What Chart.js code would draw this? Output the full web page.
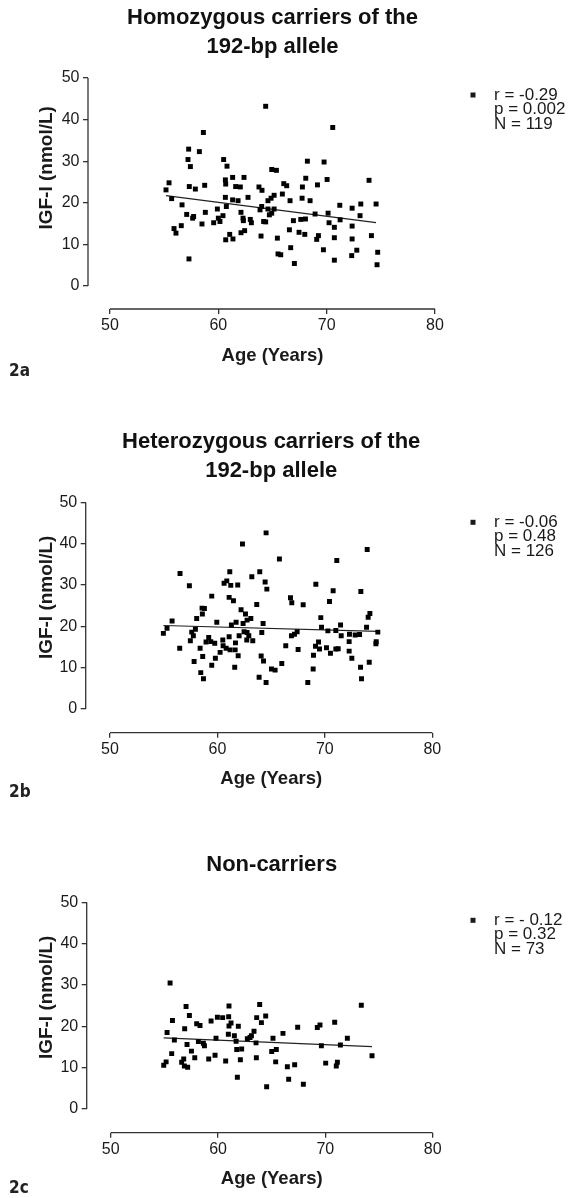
<!DOCTYPE html>
<html>
<head>
<meta charset="utf-8">
<title>IGF-I by age</title>
<script src="https://cdn.jsdelivr.net/npm/chart.js@4.4.1/dist/chart.umd.min.js"></script>
<style>
  html, body { margin: 0; padding: 0; background: #fff; }
  #page { position: relative; width: 576px; height: 1198px; overflow: hidden; }
  .panel { position: absolute; left: 0; width: 576px; }
  .fig-tag {
    position: absolute; left: 9px;
    font: bold 17px "Liberation Sans Narrow", "DejaVu Sans Condensed", sans-serif;
    color: #222;
  }
</style>
</head>
<body>
<div id="page">
  <div class="panel" style="top:0;height:400px"><canvas id="chartA" width="576" height="400"></canvas></div>
  <div class="panel" style="top:400px;height:400px"><canvas id="chartB" width="576" height="400"></canvas></div>
  <div class="panel" style="top:800px;height:398px"><canvas id="chartC" width="576" height="398"></canvas></div>
  <div class="fig-tag" style="top:360px">2a</div>
  <div class="fig-tag" style="top:781px">2b</div>
  <div class="fig-tag" style="top:1177px">2c</div>
</div>

<script>
// axis ticks
const xTicks = [50, 60, 70, 80];
const yTicks = [0, 10, 20, 30, 40, 50];

// 2a - homozygous carriers
const homoAge = [55.17, 55.45, 55.69, 55.91, 56.09, 56.58, 56.65, 57.08, 57.26, 57.2, 57.42, 57.32, 57.29, 57.63, 57.72,
  57.88, 58.25, 58.49, 58.62, 58.74, 58.8, 59.57, 59.91, 60.0, 60.15, 60.43, 60.49, 60.65, 60.68, 60.8,
  60.65, 60.74, 60.68, 61.05, 61.35, 61.32, 61.32, 61.6, 61.82, 62.03, 62.09, 62.09, 62.28, 62.31, 62.37,
  62.43, 62.74, 62.95, 63.05, 63.75, 64.03, 63.85, 63.94, 64.0, 64.18, 64.37, 64.37, 64.58, 64.58, 64.71,
  70.56, 64.93, 65.36, 68.22, 69.76, 68.07, 70.04, 73.91, 66.04, 66.31, 67.76, 69.15, 64.87, 65.15, 65.91,
  66.62, 67.73, 68.47, 65.15, 64.93, 71.21, 72.35, 73.15, 74.56, 68.93, 70.13, 73.08, 66.93, 67.61, 68.04,
  70.22, 70.71, 71.24, 72.35, 66.56, 67.45, 67.98, 69.24, 69.08, 70.71, 72.35, 74.13, 65.45, 66.68, 69.7,
  72.78, 65.51, 65.76, 72.31, 74.71, 67.02, 70.71, 74.65];
const homoIgf = [23.1, 24.8, 21.0, 13.8, 12.7, 14.5, 19.5, 17.2, 32.9, 30.4, 28.7, 23.9, 6.5, 16.3, 16.7,
  23.3, 32.3, 14.9, 36.9, 24.2, 17.7, 15.2, 18.5, 16.3, 15.5, 16.9, 30.4, 25.5, 24.5, 28.8,
  21.3, 19.1, 11.1, 12.4, 11.3, 26.1, 20.7, 23.9, 20.5, 23.8, 17.7, 12.8, 16.3, 15.7, 26.1,
  13.3, 21.3, 16.0, 15.2, 23.8, 23.0, 18.3, 12.0, 19.1, 15.5, 43.2, 15.4, 20.5, 18.5, 17.1,
  38.1, 28.0, 27.8, 30.0, 29.8, 25.9, 25.6, 25.4, 24.6, 24.1, 23.8, 24.3, 21.1, 21.8, 22.1,
  20.5, 21.1, 20.5, 18.5, 17.5, 19.4, 18.7, 19.7, 19.7, 17.3, 17.5, 16.9, 15.7, 16.0, 16.1,
  15.2, 14.1, 15.9, 14.4, 13.5, 12.9, 12.4, 12.1, 11.2, 11.6, 11.3, 12.1, 11.5, 9.2, 8.7,
  8.6, 7.7, 7.5, 7.3, 8.1, 5.4, 6.2, 5.1];
const homoFitAge = [55.17, 74.56];
const homoFitIgf = [21.7, 15.25];
const homoStats = ['r = -0.29', 'p = 0.002', 'N = 119'];

// 2b - heterozygous carriers
const heteroAge = [54.97, 55.31, 55.78, 56.52, 56.49, 57.39, 57.61, 57.95, 57.48, 57.76, 57.83, 58.07, 58.39, 58.45, 58.63,
  58.7, 58.57, 58.79, 58.6, 59.47, 58.94, 59.19, 59.38, 59.75, 59.47, 59.94, 59.81, 60.25, 60.5, 60.53,
  60.62, 60.87, 61.15, 61.24, 61.09, 61.09, 61.49, 61.3, 60.81, 61.18, 61.65, 61.61, 61.68, 61.74, 61.89,
  61.93, 62.02, 62.2, 62.33, 62.39, 62.48, 62.61, 62.76, 62.76, 62.92, 62.73, 63.11, 63.2, 63.29, 63.66,
  63.88, 63.94, 64.07, 64.13, 64.25, 64.29, 64.44, 64.53, 64.53, 64.6,
  65.77, 71.11, 73.94, 69.16, 73.35, 70.77, 66.8, 66.92, 67.98, 70.43, 69.62, 74.19, 74.03, 69.69, 70.28,
  71.02, 71.46, 73.88, 74.93, 67.42, 67.17, 66.89, 71.52, 72.29, 72.82, 73.23, 69.41, 72.26, 74.78, 74.75,
  66.36, 67.51, 69.13, 69.5, 70.15, 70.52, 71.02, 71.24, 72.26, 68.94, 72.51, 74.13, 65.99, 65.03, 65.37,
  68.91, 73.32, 73.41, 68.41];
const heteroIgf = [18.3, 19.5, 21.3, 32.8, 14.7, 29.8, 18.6, 19.3, 16.5, 17.7, 11.5, 21.9, 14.7, 8.8, 12.7,
  7.3, 24.4, 24.3, 23.0, 27.3, 16.2, 17.3, 16.3, 15.9, 10.6, 21.0, 12.3, 13.7, 16.7, 15.3,
  30.4, 31.0, 33.2, 29.9, 27.0, 17.5, 26.2, 20.3, 14.7, 14.3, 14.3, 10.1, 16.0, 21.0, 30.0,
  12.9, 17.7, 24.0, 39.9, 20.7, 18.7, 23.0, 21.5, 18.5, 17.7, 16.7, 21.9, 32.0, 16.5, 25.3,
  7.7, 33.2, 12.8, 18.5, 20.7, 11.6, 30.7, 42.6, 6.4, 29.0,
  36.3, 35.9, 38.6, 30.2, 28.4, 28.6, 26.9, 25.7, 25.2, 26.0, 22.1, 23.1, 22.2, 19.8, 18.9,
  19.0, 20.3, 19.8, 18.6, 18.7, 18.1, 17.7, 17.7, 18.1, 17.9, 18.0, 16.2, 16.3, 16.3, 15.8,
  15.3, 14.4, 15.2, 14.5, 14.8, 13.5, 14.5, 14.6, 14.0, 13.0, 12.3, 11.3, 11.0, 9.7, 9.4,
  9.7, 10.1, 7.3, 6.4];
const heteroFitAge = [54.97, 74.93];
const heteroFitIgf = [20.2, 18.8];
const heteroStats = ['r = -0.06', 'p = 0.48', 'N = 126'];

// 2c - non-carriers
const nonAge = [54.94, 55.16, 55.25, 55.53, 55.68, 55.75, 55.93, 56.61, 56.8, 56.86, 57.02, 56.89, 57.11, 57.17, 57.33,
  57.52, 57.83, 58.01, 58.32, 58.17, 58.63, 58.73, 59.13, 59.35, 59.72, 59.81, 59.94, 60.43, 60.71, 60.96,
  60.99, 61.02, 61.02, 61.21, 61.52, 61.68, 61.74, 61.8, 61.89, 62.08, 62.2, 62.73, 62.98, 63.11, 63.35,
  63.54, 63.57, 63.6, 63.88, 64.04, 64.44, 64.53,
  65.12, 65.0, 65.43, 65.37, 66.05, 66.46, 66.58, 67.14, 67.42, 67.95, 69.25, 69.5, 69.63, 70.03, 70.87,
  71.12, 71.02, 71.4, 72.05, 73.35, 74.35];
const nonIgf = [10.6, 11.4, 18.5, 30.5, 13.4, 21.4, 16.7, 11.3, 12.1, 10.4, 24.8, 19.4, 15.6, 10.1, 22.6,
  14.0, 12.4, 20.6, 20.2, 16.3, 15.9, 15.3, 12.1, 21.3, 13.0, 17.1, 22.2, 22.1, 11.6, 18.1,
  22.3, 24.9, 20.1, 20.8, 17.7, 16.4, 14.4, 7.7, 20.0, 11.9, 14.5, 17.0, 17.3, 17.7, 18.8,
  16.0, 12.4, 22.1, 25.3, 20.9, 22.5, 5.4,
  17.1, 13.9, 14.4, 11.4, 18.3, 10.2, 7.2, 10.7, 19.8, 6.0, 19.7, 20.3, 15.3, 11.1, 21.0,
  11.3, 10.4, 15.5, 17.1, 25.1, 12.9];
const nonFitAge = [54.94, 74.35];
const nonFitIgf = [17.2, 15.1];
const nonStats = ['r = - 0.12', 'p = 0.32', 'N = 73'];

const FONT = '"Liberation Sans", Arial, Helvetica, sans-serif';
const INK = '#1a1a1a';
const AXIS = '#333';

Chart.defaults.font.family = FONT;
Chart.defaults.color = INK;

// Prism-style detached axes + rotated y title
const offsetAxes = {
  id: 'offsetAxes',
  afterDraw(chart, args, opts) {
    const {ctx, chartArea} = chart;
    const x = chart.scales.x, y = chart.scales.y;
    ctx.save();
    ctx.strokeStyle = AXIS;
    ctx.lineWidth = 1.3;
    ctx.beginPath();
    ctx.moveTo(chartArea.left, y.getPixelForValue(yTicks[0]));
    ctx.lineTo(chartArea.left, y.getPixelForValue(yTicks[yTicks.length - 1]));
    ctx.moveTo(x.getPixelForValue(xTicks[0]), chartArea.bottom);
    ctx.lineTo(x.getPixelForValue(xTicks[xTicks.length - 1]), chartArea.bottom);
    ctx.stroke();

    ctx.translate(47, y.getPixelForValue(opts.titleAt));
    ctx.rotate(-Math.PI / 2);
    ctx.font = 'bold 19px ' + FONT;
    ctx.fillStyle = INK;
    ctx.textAlign = 'center';
    ctx.textBaseline = 'middle';
    ctx.fillText(opts.title, 0, 0);
    ctx.restore();
  }
};

// r / p / N box to the right of the plot
const statsBox = {
  id: 'statsBox',
  afterDraw(chart, args, opts) {
    const {ctx} = chart;
    const top = chart.scales.y.getPixelForValue(yTicks[yTicks.length - 1]) + opts.offset;
    ctx.save();
    ctx.fillStyle = INK;
    ctx.fillRect(470.5, top - 2.5, 5, 5);
    ctx.font = '17px ' + FONT;
    ctx.textBaseline = 'middle';
    opts.lines.forEach((t, i) => ctx.fillText(t, 494, top + i * 14.5));
    ctx.restore();
  }
};

const makeChart = (id, p) => {
  new Chart(document.getElementById(id), {
    type: 'scatter',
    data: {
      datasets: [{
        data: p.age.map((a, i) => ({x: a, y: p.igf[i]})),
        pointStyle: 'rect',
        pointRadius: 3.5,
        pointBackgroundColor: '#000',
        pointBorderWidth: 0
      }, {
        data: p.fitAge.map((a, i) => ({x: a, y: p.fitIgf[i]})),
        showLine: true,
        borderColor: '#222',
        borderWidth: 1.2,
        pointRadius: 0
      }]
    },
    options: {
      responsive: false,
      animation: false,
      events: [],
      layout: {padding: {left: 0, right: p.padRight, top: 0, bottom: 0}},
      plugins: {
        legend: {display: false},
        tooltip: {enabled: false},
        title: {
          display: true,
          text: p.title,
          fullSize: false,
          color: '#111',
          font: {size: 22, weight: 'bold', lineHeight: 1.3},
          padding: p.titlePad
        },
        offsetAxes: {title: 'IGF-I (nmol/L)', titleAt: p.yTitleAt},
        statsBox: {lines: p.stats, offset: p.statsOffset}
      },
      scales: {
        x: {
          type: 'linear',
          min: p.xMin,
          max: p.xMax,
          afterBuildTicks: s => { s.ticks = xTicks.map(v => ({value: v})); },
          afterFit: s => { s.height = p.xHeight; },
          border: {display: false},
          grid: {drawOnChartArea: false, drawTicks: true, tickLength: 5, color: AXIS, lineWidth: 1.3},
          ticks: {font: {size: 16}, padding: 2, color: INK, maxRotation: 0},
          title: {
            display: true,
            text: 'Age (Years)',
            font: {size: 18.5, weight: 'bold'},
            color: INK,
            padding: {top: 0, bottom: p.xTitlePad}
          }
        },
        y: {
          type: 'linear',
          min: p.yMin,
          max: 50,
          afterBuildTicks: s => { s.ticks = yTicks.map(v => ({value: v})); },
          afterFit: s => { s.width = p.yWidth; },
          border: {display: false},
          grid: {drawOnChartArea: false, drawTicks: true, tickLength: 5, color: AXIS, lineWidth: 1.3},
          ticks: {font: {size: 16}, padding: 3.5, color: INK}
        }
      }
    },
    plugins: [offsetAxes, statsBox]
  });
};

makeChart('chartA', {
  title: ['Homozygous carriers of the', '192-bp allele'],
  age: homoAge, igf: homoIgf, fitAge: homoFitAge, fitIgf: homoFitIgf, stats: homoStats,
  xMin: 47.97, xMax: 82.03, yMin: -5.54, yWidth: 88, xHeight: 91, padRight: 119,
  titlePad: {top: 4, bottom: 16.8}, xTitlePad: 33.3, yTitleAt: 28.4, statsOffset: 17
});

makeChart('chartB', {
  title: ['Heterozygous carriers of the', '192-bp allele'],
  age: heteroAge, igf: heteroIgf, fitAge: heteroFitAge, fitIgf: heteroFitIgf, stats: heteroStats,
  xMin: 47.74, xMax: 82.27, yMin: -5.73, yWidth: 85.7, xHeight: 67.3, padRight: 119.3,
  titlePad: {top: 27.7, bottom: 17.4}, xTitlePad: 9.6, yTitleAt: 27, statsOffset: 20
});

makeChart('chartC', {
  title: 'Non-carriers',
  age: nonAge, igf: nonIgf, fitAge: nonFitAge, fitIgf: nonFitIgf, stats: nonStats,
  xMin: 47.76, xMax: 82.24, yMin: -5.73, yWidth: 86.7, xHeight: 65.3, padRight: 119.3,
  titlePad: {top: 50.7, bottom: 23}, xTitlePad: 7.6, yTitleAt: 27, statsOffset: 18
});
</script>
</body>
</html>
